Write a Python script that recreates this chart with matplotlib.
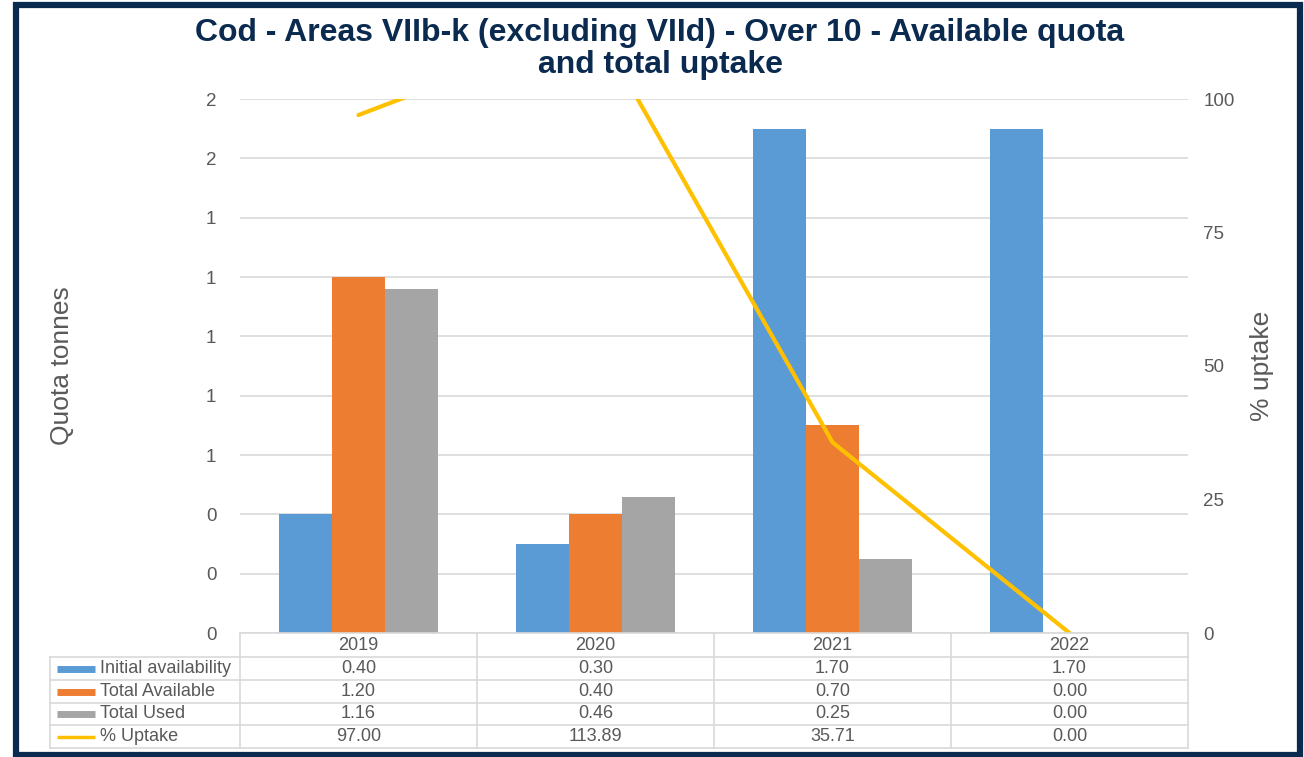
import matplotlib
matplotlib.use("Agg")
import matplotlib.pyplot as plt
from matplotlib.lines import Line2D
from matplotlib.patches import Rectangle
import numpy as np

plt.rcParams['font.family'] = ['Liberation Sans', 'DejaVu Sans']

# data
years = ['2019', '2020', '2021', '2022']
initial = [0.40, 0.30, 1.70, 1.70]
available = [1.20, 0.40, 0.70, 0.00]
used = [1.16, 0.46, 0.25, 0.00]
uptake = [97.00, 113.89, 35.71, 0.00]
series_names = ['Initial availability', 'Total Available', 'Total Used', '% Uptake']
colors = ['#5B9BD5', '#ED7D31', '#A5A5A5', '#FFC000']

W, H = 1304, 757
fig = plt.figure(figsize=(W / 100, H / 100), dpi=100)

def fx(px):
    return px / W

def fy(py):
    return 1 - py / H

# frame around everything
fig.add_artist(Rectangle((fx(15.5), fy(754.5)), fx(1284), fy(5) - fy(754.5),
                         transform=fig.transFigure, fill=False,
                         edgecolor='#0B2A4F', linewidth=4.5))

x0, x1, ytop, ybot = 240, 1188, 99, 633
ax = fig.add_axes([fx(x0), fy(ybot), fx(x1 - x0), fy(ytop) - fy(ybot)])
x = np.arange(len(years))
bw = 0.223
ax.bar(x - bw, initial, bw, color=colors[0], zorder=2)
ax.bar(x, available, bw, color=colors[1], zorder=2)
ax.bar(x + bw, used, bw, color=colors[2], zorder=2)
ax.set_xlim(-0.5, len(years) - 0.5)
ax.set_ylim(0, 1.8)
ax.set_yticks(np.arange(0, 1.81, 0.2))
ax.set_yticklabels(['{:.0f}'.format(v) for v in np.arange(0, 1.81, 0.2)])
ax.yaxis.grid(True, color='#D9D9D9', linewidth=1.2, zorder=0)
ax.set_axisbelow(True)
ax.tick_params(axis='y', length=0, pad=17, labelsize=13.5, labelcolor='#595959')
ax.set_xticks([])
for s in ax.spines.values():
    s.set_visible(False)

ax2 = ax.twinx()
ax2.plot(x, uptake, color=colors[3], linewidth=3, solid_capstyle='round', zorder=3)
ax2.set_ylim(0, 100)
ax2.set_yticks([0, 25, 50, 75, 100])
ax2.tick_params(axis='y', length=0, pad=11, labelsize=13.5, labelcolor='#595959')
for s in ax2.spines.values():
    s.set_visible(False)

fig.text(fx(62), fy(366), 'Quota tonnes', rotation=90, ha='center', va='center',
         fontsize=19, color='#595959')
fig.text(fx(1262), fy(366), '% uptake', rotation=90, ha='center', va='center',
         fontsize=19, color='#595959')

fig.text(fx(660), fy(33), 'Cod - Areas VIIb-k (excluding VIId) - Over 10 - Available quota',
         ha='center', va='center', fontsize=23, fontweight='bold', color='#0B2A4F')
fig.text(fx(660), fy(65), 'and total uptake',
         ha='center', va='center', fontsize=23, fontweight='bold', color='#0B2A4F')

# data table
grid_c = '#D9D9D9'
col_w = (x1 - x0) / len(years)
rows = [633, 657, 680, 703, 725, 748]
tl = 50

def hline(xa, xb, y):
    fig.add_artist(Line2D([fx(xa), fx(xb)], [fy(y), fy(y)], color=grid_c, linewidth=1.2,
                          transform=fig.transFigure))

def vline(xx, ya, yb):
    fig.add_artist(Line2D([fx(xx), fx(xx)], [fy(ya), fy(yb)], color=grid_c, linewidth=1.2,
                          transform=fig.transFigure))

hline(x0, x1, rows[0])
for r in rows[1:]:
    hline(tl, x1, r)
vline(tl, rows[1], rows[-1])
for i in range(len(years) + 1):
    vline(x0 + i * col_w, rows[0], rows[-1])

for i, yr in enumerate(years):
    cx = x0 + (i + 0.5) * col_w
    fig.text(fx(cx), fy((rows[0] + rows[1]) / 2), yr, ha='center', va='center',
             fontsize=13, color='#595959')

table_vals = [initial, available, used, uptake]
for j, (name, vals) in enumerate(zip(series_names, table_vals)):
    cy = (rows[j + 1] + rows[j + 2]) / 2
    lw = 5 if j < 3 else 2.5
    fig.add_artist(Line2D([fx(57), fx(95)], [fy(cy), fy(cy)], color=colors[j], linewidth=lw,
                          transform=fig.transFigure, solid_capstyle='butt'))
    fig.text(fx(100), fy(cy), name, ha='left', va='center', fontsize=13, color='#595959')
    for i, v in enumerate(vals):
        cx = x0 + (i + 0.5) * col_w
        fig.text(fx(cx), fy(cy), '{:.2f}'.format(v), ha='center', va='center',
                 fontsize=13, color='#595959')

fig.savefig('out.png', dpi=100)
